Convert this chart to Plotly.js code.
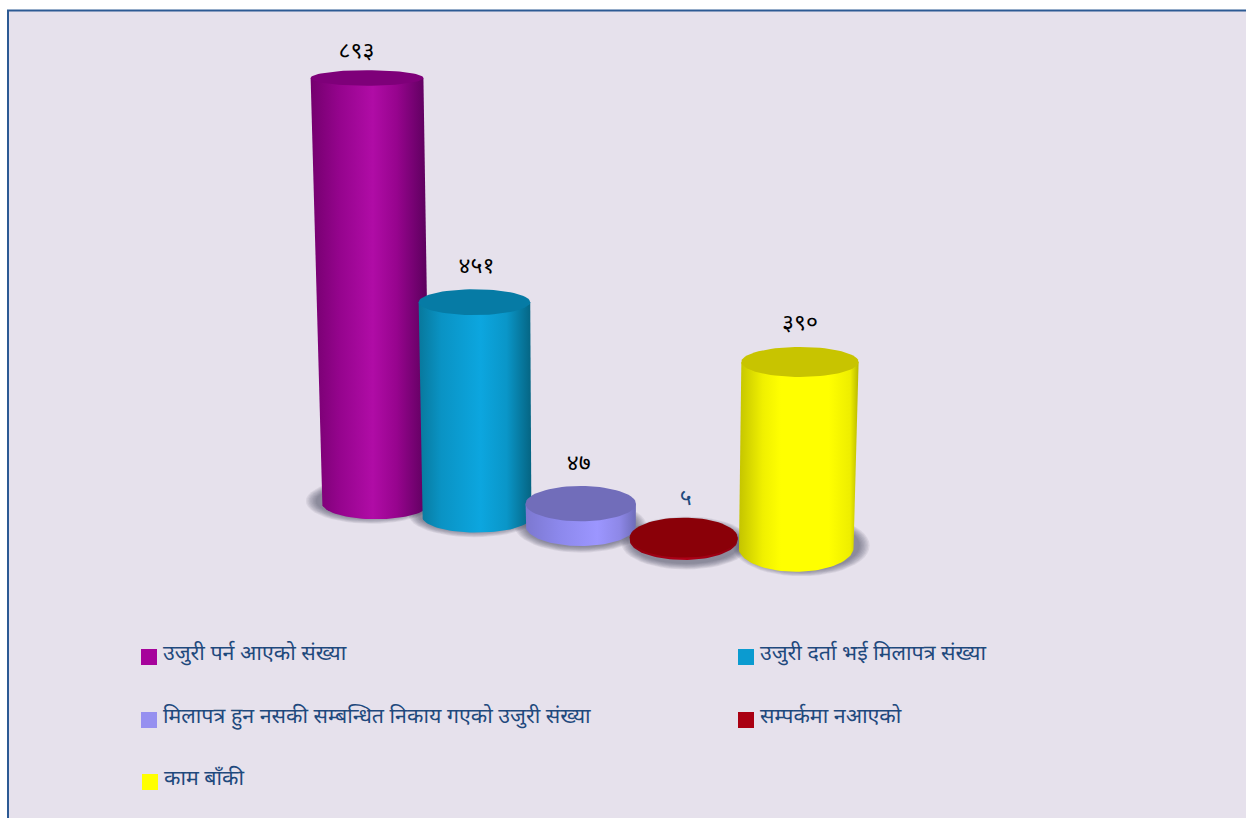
<!DOCTYPE html>
<html><head><meta charset="utf-8">
<script src="https://cdn.plot.ly/plotly-3.0.1.min.js"></script>
<style>html,body{margin:0;padding:0;background:#fff;overflow:hidden}#c{width:1246px;height:818px}</style>
</head><body><div id="c"></div>
<script>
// ---- data ----
const categories = ['उजुरी पर्न आएको संख्या','उजुरी दर्ता भई मिलापत्र संख्या','मिलापत्र हुन नसकी सम्बन्धित निकाय गएको उजुरी संख्या','सम्पर्कमा नआएको','काम बाँकी'];
const values = [893, 451, 47, 5, 390];

// ---- styles ----
const topColors = ['#7E0079','#067BA5','#716DBA','#8A0008','#C8C400'];
const swatchColors = ['#A6039B','#0B9BD0','#9690F0','#AA0012','#FFFF00'];
const sideStops = [
 [[0,'#74006E'],[.25,'#96048E'],[.52,'#B00CA6'],[.72,'#97048E'],[1,'#560058']],
 [[0,'#08789C'],[.2,'#0A93C4'],[.55,'#0CA6DF'],[.78,'#0A96C8'],[1,'#056482']],
 [[0,'#7C78D0'],[.3,'#8C88EC'],[.65,'#9C96FF'],[.85,'#8E88E8'],[1,'#6E6CB8']],
 [[0,'#8E0010'],[.5,'#B00018'],[1,'#8E0010']],
 [[0,'#C4C400'],[.2,'#F0F000'],[.35,'#FFFF00'],[.75,'#FFFF00'],[.93,'#EEEE00'],[1,'#B8B800']]
];
const labelColors = ['#000000','#000000','#000000','#1F497D','#000000'];
const labelFont = '"Noto Sans Devanagari","Noto Sans",Lohit,"DejaVu Sans",sans-serif';

// ---- projection of the chart's cylinders (axis units) ----
const depthX = [0, .96, 1.95, 2.93, 4];
const depthY = [48.3, 19.3, 0, -29.4, -45.4];
const baseRx = [.515, .52, .524, .514, .548];
const baseTilt = [.30, .29, .364, .37, .42];
const tiltDecay = [.00038, .00027, .002, 0, .00088];
const shadowLift = [2, 2, 0, -3, 2];
const pxX = 105, pxY = .476, vanishX = 1.99, vanishY = -20744;
const aspect = pxX / pxY;

function ring(i, v) {
  const y = depthY[i] + v;
  const f = (vanishY - y) / (vanishY - depthY[i]);
  const rx = baseRx[i] * f;
  const tilt = baseTilt[i] - tiltDecay[i] * v * pxY;
  return {cx: vanishX + (depthX[i] - vanishX) * f, cy: y, rx: rx, ry: rx * tilt * aspect};
}
function ellipse(r, a0, a1, n) {
  const xs = [], ys = [];
  for (let k = 0; k <= n; k++) {
    const t = a0 + (a1 - a0) * k / n;
    xs.push(r.cx + r.rx * Math.cos(t));
    ys.push(r.cy + r.ry * Math.sin(t));
  }
  return [xs, ys];
}
const traces = [];
// soft floor shadows
values.forEach((v, i) => {
  const b = ring(i, 0);
  const out = (b.cx - vanishX) / 2;
  for (let k = 7; k >= 0; k--) {
    const s = {cx: b.cx + out * .05, cy: b.cy + shadowLift[i] / pxY, rx: b.rx + (k * 1.4 + 1) / pxX, ry: b.ry + (k * .8 + 1) / pxY};
    const [x, y] = ellipse(s, 0, 2 * Math.PI, 48);
    traces.push({type:'scatter', mode:'lines', x, y, fill:'toself', fillcolor:'rgba(70,70,85,0.09)', line:{width:0}, hoverinfo:'skip', showlegend:false});
  }
});
// cylinders
values.forEach((v, i) => {
  const b = ring(i, 0), t = ring(i, v);
  const [ax, ay] = ellipse(b, Math.PI, 2 * Math.PI, 48);
  const x = [t.cx - t.rx, ...ax, t.cx + t.rx, t.cx - t.rx];
  const y = [t.cy, ...ay, t.cy, t.cy];
  traces.push({type:'scatter', mode:'lines', name:categories[i], x, y, fill:'toself',
    fillgradient:{type:'horizontal', colorscale:sideStops[i]}, line:{width:0}, hoverinfo:'skip', showlegend:false});
  const [tx, ty] = ellipse(t, 0, 2 * Math.PI, 72);
  traces.push({type:'scatter', mode:'lines', name:categories[i], x:tx, y:ty, fill:'toself', fillcolor:topColors[i], line:{width:0}, hoverinfo:'skip', showlegend:false});
});
// value labels
const toDeva = n => String(n).replace(/\d/g, d => '०१२३४५६७८९'[+d]);
const labelDx = [-.1, .02, -.02, .02, 0];
const labelLift = [6, 10, 10, 7, 11];
const tops = values.map((v, i) => ring(i, v));
traces.push({type:'scatter', mode:'text',
  x: tops.map((r, i) => r.cx + labelDx[i]),
  y: tops.map((r, i) => r.cy + r.ry + labelLift[i] / pxY),
  text: values.map(toDeva), textposition:'top center',
  textfont:{family:labelFont, size:23, color:labelColors}, hoverinfo:'skip', showlegend:false});

// legend
const W = 1246, H = 818;
const swatchX = [141, 738, 141, 738, 142], swatchY = [649, 649, 712, 712, 774];
const shapes = [{type:'rect', xref:'paper', yref:'paper', x0:8/W, x1:1.01, y0:-.01, y1:1-10.5/H,
  fillcolor:'#E6E1EC', line:{color:'#2C5A94', width:2}, layer:'below'}];
const annotations = [];
categories.forEach((c, i) => {
  shapes.push({type:'rect', xref:'paper', yref:'paper', x0:swatchX[i]/W, x1:(swatchX[i]+16)/W, y0:1-(swatchY[i]+16)/H, y1:1-swatchY[i]/H, fillcolor:swatchColors[i], line:{width:0}});
  annotations.push({xref:'paper', yref:'paper', x:(swatchX[i]+20)/W, y:1-(swatchY[i]+5)/H, xanchor:'left', yanchor:'middle', text:c, showarrow:false,
    font:{family:labelFont, size:21.4, color:'#1F497D'}});
});

Plotly.newPlot('c', traces, {
  width:W, height:H, margin:{l:0,r:0,t:0,b:0}, paper_bgcolor:'#FFFFFF', plot_bgcolor:'rgba(0,0,0,0)',
  showlegend:false, hovermode:false,
  xaxis:{visible:false, range:[-376/pxX, (W-376)/pxX], fixedrange:true},
  yaxis:{visible:false, range:[(526-H)/pxY, 526/pxY], fixedrange:true},
  shapes, annotations
}, {displayModeBar:false, staticPlot:true});
</script></body></html>
